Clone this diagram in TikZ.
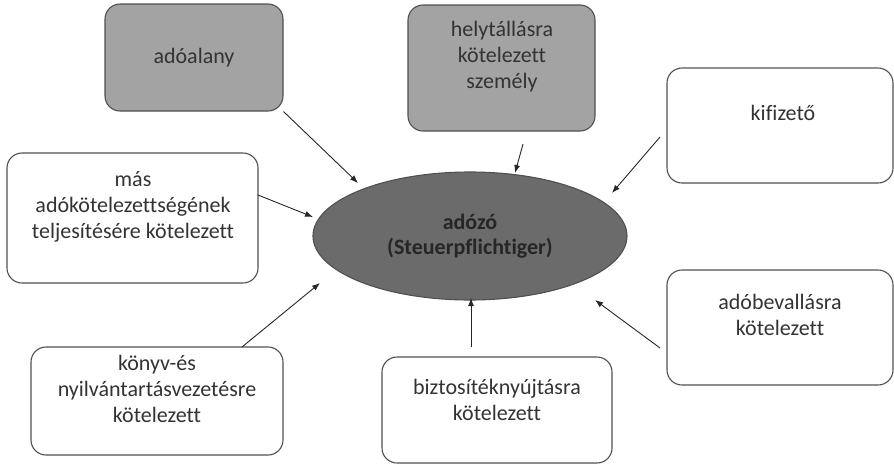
\documentclass[tikz,border=0pt]{standalone}
\usepackage{fontspec}
\setmainfont{Carlito}[Ligatures={NoCommon}]
\usetikzlibrary{shapes.geometric,arrows.meta}
\definecolor{boxline}{HTML}{505050}
\definecolor{graybox}{HTML}{A3A3A3}
\definecolor{ellfill}{HTML}{6B6B6B}
\definecolor{txt}{HTML}{333333}
\begin{document}
\begin{tikzpicture}[x=1pt,y=-1pt,
  basebox/.style={draw=boxline, line width=1.1pt, rounded corners=15pt, inner sep=0pt},
  whitebox/.style={basebox, fill=white},
  greybox/.style={basebox, fill=graybox},
  lbl/.style={text=txt, align=center, font=\fontsize{22}{26}\selectfont, inner sep=0pt},
  arr/.style={draw=black!85, line width=0.9pt, -{Latex[length=8pt,width=6pt]}}]
\useasboundingbox (0,0) rectangle (894,464);

% boxes
\node[greybox, minimum width=178, minimum height=107] (adoalany) at (194,57.5) {};
\node[greybox, minimum width=187, minimum height=126] (hely) at (501.5,68) {};
\node[whitebox, minimum width=226, minimum height=115] (kifizeto) at (780,125.5) {};
\node[whitebox, minimum width=251, minimum height=130] (mas) at (132.5,218) {};
\node[whitebox, minimum width=252, minimum height=108] (konyv) at (157,401) {};
\node[whitebox, minimum width=230, minimum height=106] (bizt) at (497,410) {};
\node[whitebox, minimum width=226, minimum height=115] (adobev) at (780,327.5) {};
\node[ellipse, draw=boxline, line width=1.1pt, fill=ellfill, minimum width=314, minimum height=128, inner sep=0pt] (adozo) at (470,236) {};

% texts
\node[lbl] (t-adoalany) at (194,58) {adóalany};
\node[lbl] (t-hely) at (502,57) {helytállásra\\kötelezett\\személy};
\node[lbl] (t-kifizeto) at (783,113) {kifizető};
\node[lbl] (t-mas) at (133,207) {más\\adókötelezettségének\\teljesítésére kötelezett};
\node[lbl] (t-konyv) at (157,389) {könyv-és\\nyilvántartásvezetésre\\kötelezett};
\node[lbl] (t-bizt) at (497,400) {biztosítéknyújtásra\\kötelezett};
\node[lbl] (t-adobev) at (780,315) {adóbevallásra\\kötelezett};
\node[lbl, text=black!85, font=\fontsize{22}{25}\selectfont\bfseries] (t-adozo) at (470,236.5) {adózó\\(Steuerpflichtiger)};

% connector end points
\coordinate (e1) at (358,183);
\coordinate (s2) at (258,195); \coordinate (e2) at (313,217);
\coordinate (s3) at (523,144); \coordinate (e3) at (515,173);
\coordinate (s4) at (660,137); \coordinate (e4) at (612,193);
\coordinate (s5) at (242,347); \coordinate (e5) at (320,283);
\coordinate (s6) at (471,347); \coordinate (e6) at (471,298);
\coordinate (s7) at (660,348); \coordinate (e7) at (595,300);

\draw[arr] (adoalany.south east) -- (e1);
\draw[arr] (s2) -- (e2);
\draw[arr] (s3) -- (e3);
\draw[arr] (s4) -- (e4);
\draw[arr] (s5) -- (e5);
\draw[arr] (s6) -- (e6);
\draw[arr] (s7) -- (e7);
\end{tikzpicture}
\end{document}
